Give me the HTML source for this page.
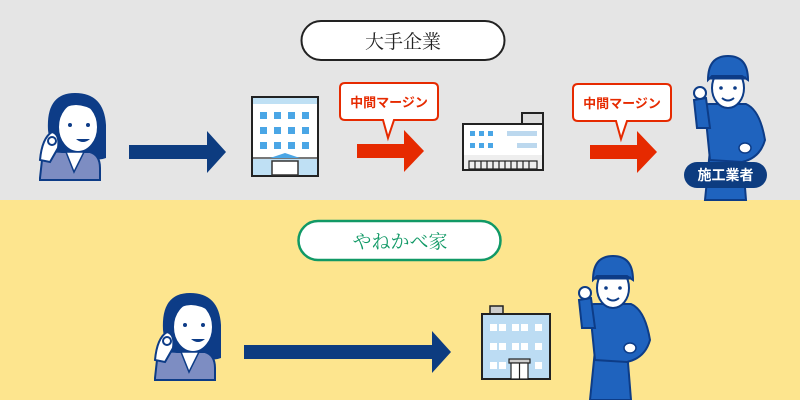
<!DOCTYPE html>
<html><head><meta charset="utf-8"><style>
html,body{margin:0;padding:0;width:800px;height:400px;overflow:hidden}
text{font-family:"Liberation Serif","Noto Serif CJK SC",serif}
.b{font-family:"Liberation Sans","Noto Sans CJK JP",sans-serif;font-weight:bold}
</style></head><body>
<svg width="800" height="400" viewBox="0 0 800 400" xmlns="http://www.w3.org/2000/svg">
<defs>
<g id="woman">
 <path d="M48,130 Q46,93 75,93 Q104,93 106,125 L106,158 Q96,162 88,155 L60,155 Q50,150 48,130Z" fill="#0d3c87"/>
 <ellipse cx="78" cy="127" rx="20" ry="25" fill="#fff" stroke="#0d3c87" stroke-width="2"/>
 <path d="M58,112 Q75,98 96,112 L96,102 Q78,92 58,104Z" fill="#0d3c87"/>
 <circle cx="70" cy="125" r="2" fill="#0d3c87"/><circle cx="88" cy="125" r="2" fill="#0d3c87"/>
 <path d="M76,139 Q83,145 90,139Z" fill="#0d3c87"/>
 <path d="M40,178 L42,160 Q48,150 62,152 L90,152 Q100,155 100,168 L100,180 L40,180Z" fill="#7d8dc2" stroke="#0d3c87" stroke-width="2"/>
 <path d="M66,152 L74,172 L84,152Z" fill="#fff" stroke="#0d3c87" stroke-width="1.5"/>
 <path d="M40,160 Q42,138 52,132 Q60,134 58,148 L50,162Z" fill="#fff" stroke="#0d3c87" stroke-width="2"/>
 <circle cx="52" cy="141" r="4" fill="none" stroke="#0d3c87" stroke-width="2"/>
</g>
<g id="worker">
 <path d="M705,200 L710,150 L742,150 L746,200Z" fill="#1f63be" stroke="#0d3c87" stroke-width="2"/>
 <path d="M700,110 Q700,104 710,104 L746,104 Q760,110 765,140 Q760,158 742,162 L710,160 L706,120Z" fill="#1f63be" stroke="#0d3c87" stroke-width="2"/>
 <path d="M694,100 L697,128 L710,128 L706,98Z" fill="#1f63be" stroke="#0d3c87" stroke-width="2"/>
 <circle cx="700" cy="93" r="6" fill="#fff" stroke="#0d3c87" stroke-width="2"/>
 <ellipse cx="728" cy="88" rx="16" ry="20" fill="#fff" stroke="#0d3c87" stroke-width="2"/>
 <path d="M708,80 Q708,56 728,56 Q748,56 748,80 L742,76 L712,76Z" fill="#1f63be" stroke="#0d3c87" stroke-width="2"/>
 <path d="M710,78 L746,78" stroke="#0d3c87" stroke-width="3"/>
 <circle cx="721" cy="88" r="1.8" fill="#0d3c87"/><circle cx="735" cy="88" r="1.8" fill="#0d3c87"/>
 <path d="M722,98 Q728,103 734,98" stroke="#0d3c87" stroke-width="2" fill="none"/>
 <ellipse cx="745" cy="148" rx="6" ry="5" fill="#fff" stroke="#0d3c87" stroke-width="1.5"/>
</g>
</defs>
<rect x="0" y="0" width="800" height="200" fill="#e5e5e5"/>
<rect x="0" y="200" width="800" height="200" fill="#fde58e"/>

<rect x="301.5" y="21" width="203" height="39" rx="19.5" fill="#fff" stroke="#222" stroke-width="2"/>
<text x="403" y="48" font-size="19" text-anchor="middle" fill="#222">大手企業</text>
<rect x="298.5" y="221" width="202" height="39" rx="19.5" fill="#fff" stroke="#119966" stroke-width="2.5"/>
<text x="400" y="248" font-size="19" text-anchor="middle" fill="#119966">やねかべ家</text>

<use href="#woman"/>
<use href="#woman" transform="translate(115,200)"/>

<path d="M129,145 L207,145 L207,131 L226,152 L207,173 L207,159 L129,159Z" fill="#0d3c80"/>
<path d="M244,345 L432,345 L432,331 L451,352 L432,373 L432,359 L244,359Z" fill="#0d3c80"/>
<path d="M357,144 L404,144 L404,130 L424,151 L404,172 L404,158 L357,158Z" fill="#e62a00"/>
<path d="M590,145 L637,145 L637,131 L657,152 L637,173 L637,159 L590,159Z" fill="#e62a00"/>

<!-- speech bubbles -->
<path d="M345,83 L433,83 Q438,83 438,88 L438,115 Q438,120 433,120 L394,120 L388,138 L383,120 L345,120 Q340,120 340,115 L340,88 Q340,83 345,83Z" fill="#fff" stroke="#e62a00" stroke-width="2"/>
<text class="b" x="389" y="107" font-size="13" text-anchor="middle" fill="#e62a00">中間マージン</text>
<path d="M578,84 L666,84 Q671,84 671,89 L671,116 Q671,121 666,121 L627,121 L621,139 L616,121 L578,121 Q573,121 573,116 L573,89 Q573,84 578,84Z" fill="#fff" stroke="#e62a00" stroke-width="2"/>
<text class="b" x="622" y="108" font-size="13" text-anchor="middle" fill="#e62a00">中間マージン</text>

<!-- big building top -->
<rect x="252" y="97" width="66" height="79" fill="#fff" stroke="#222" stroke-width="2"/>
<rect x="253" y="98" width="64" height="6" fill="#bfe0f4"/>
<g fill="#4aa6e6">
<rect x="260" y="112" width="7" height="7"/><rect x="274" y="112" width="7" height="7"/><rect x="288" y="112" width="7" height="7"/><rect x="302" y="112" width="7" height="7"/>
<rect x="260" y="127" width="7" height="7"/><rect x="274" y="127" width="7" height="7"/><rect x="288" y="127" width="7" height="7"/><rect x="302" y="127" width="7" height="7"/>
<rect x="260" y="142" width="7" height="7"/><rect x="274" y="142" width="7" height="7"/><rect x="288" y="142" width="7" height="7"/><rect x="302" y="142" width="7" height="7"/>
</g>
<rect x="253" y="158" width="64" height="17" fill="#bfe0f4"/>
<path d="M253,158 L317,158" stroke="#777" stroke-width="2"/>
<path d="M270,158 L285,153 L300,158Z" fill="#4aa6e6"/>
<rect x="272" y="161" width="26" height="14" fill="#fff" stroke="#333" stroke-width="1.5"/>

<!-- low building -->
<rect x="522" y="113" width="21" height="12" fill="#ddd" stroke="#222" stroke-width="2"/>
<rect x="463" y="124" width="80" height="46" fill="#fff" stroke="#222" stroke-width="2"/>
<rect x="464" y="155" width="78" height="14" fill="#eee"/>
<g fill="#4aa6e6"><rect x="470" y="131" width="5" height="5"/><rect x="479" y="131" width="5" height="5"/><rect x="488" y="131" width="5" height="5"/>
<rect x="470" y="143" width="5" height="5"/><rect x="479" y="143" width="5" height="5"/><rect x="488" y="143" width="5" height="5"/></g>
<rect x="507" y="131" width="30" height="5" fill="#bcd8ee"/><rect x="517" y="143" width="20" height="5" fill="#bcd8ee"/>
<g fill="none" stroke="#222" stroke-width="1.2"><rect x="469" y="161" width="68" height="8"/>
<path d="M475,161V169M481,161V169M487,161V169M493,161V169M499,161V169M505,161V169M511,161V169M517,161V169M523,161V169M529,161V169"/></g>

<!-- bottom building -->
<rect x="490" y="306" width="13" height="9" fill="#ccc" stroke="#222" stroke-width="1.5"/>
<rect x="482" y="314" width="68" height="65" fill="#bcdcf3" stroke="#222" stroke-width="2"/>
<g fill="#fff">
<rect x="490" y="324" width="7" height="7"/><rect x="499" y="324" width="7" height="7"/><rect x="512" y="324" width="7" height="7"/><rect x="521" y="324" width="7" height="7"/><rect x="535" y="324" width="7" height="7"/>
<rect x="490" y="343" width="7" height="7"/><rect x="499" y="343" width="7" height="7"/><rect x="512" y="343" width="7" height="7"/><rect x="521" y="343" width="7" height="7"/><rect x="535" y="343" width="7" height="7"/>
<rect x="490" y="362" width="7" height="7"/><rect x="499" y="362" width="7" height="7"/><rect x="535" y="362" width="7" height="7"/>
</g>
<rect x="509" y="359" width="21" height="4" fill="#ccc" stroke="#222" stroke-width="1.2"/>
<rect x="511" y="363" width="17" height="16" fill="#fff" stroke="#222" stroke-width="1.2"/>
<path d="M519.5,363V379" stroke="#222" stroke-width="1.2"/>

<use href="#worker"/>
<use href="#worker" transform="translate(-115,200)"/>
<rect x="684" y="162" width="83" height="26" rx="13" fill="#0d3c80"/>
<text class="b" x="725.5" y="180" font-size="14" text-anchor="middle" fill="#fff">施工業者</text>
</svg>
</body></html>
